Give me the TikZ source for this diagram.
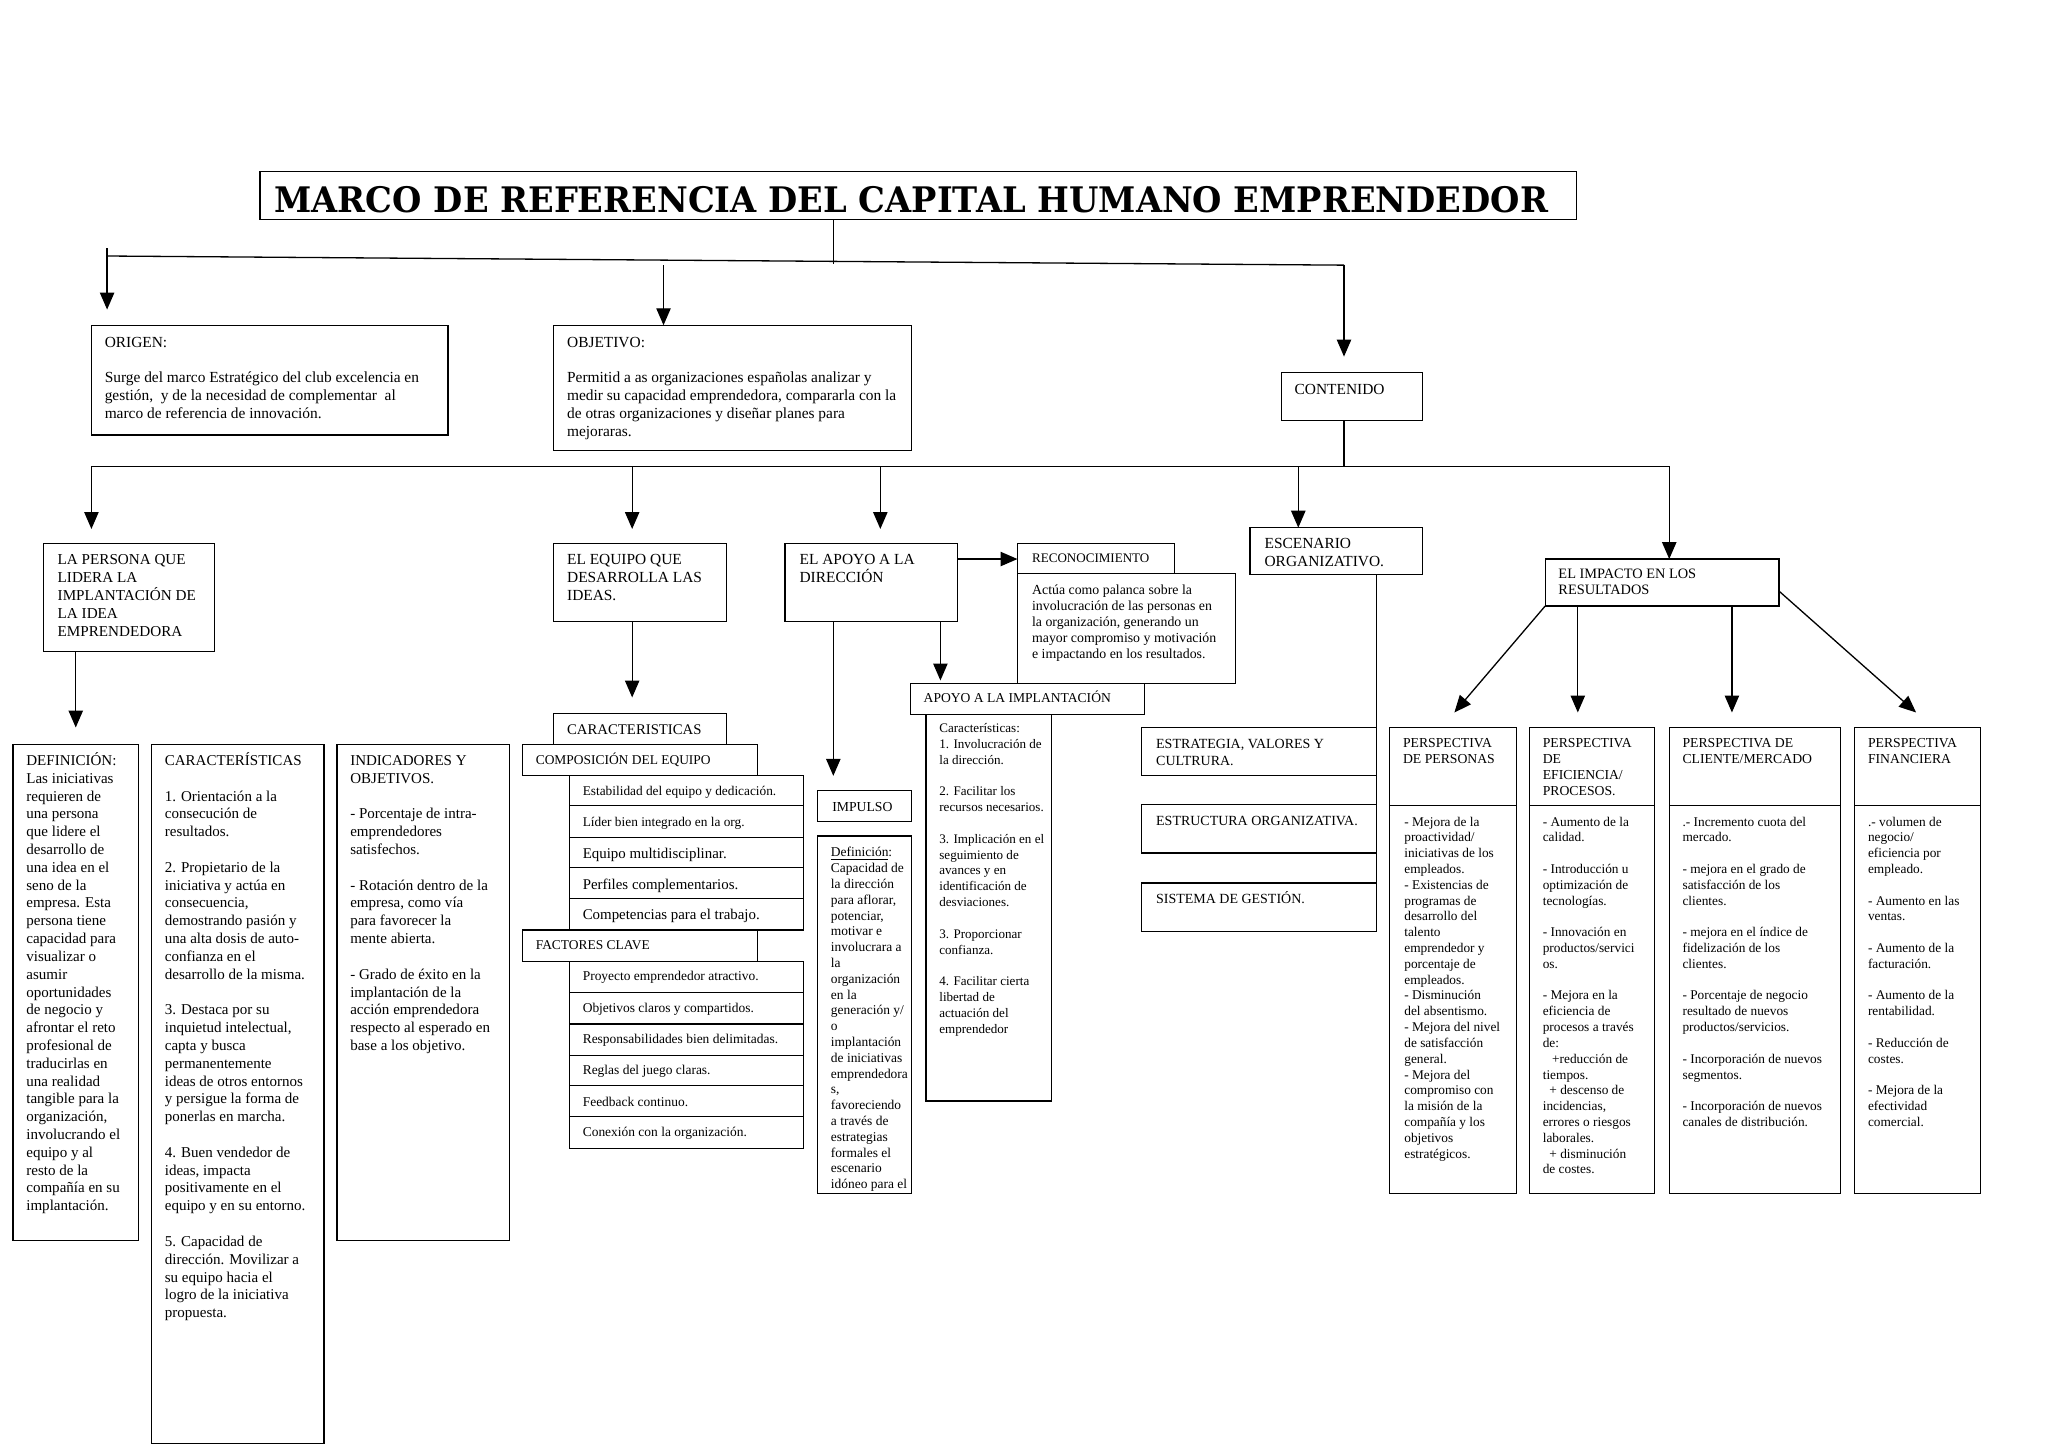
\documentclass[tikz,border=0pt]{standalone}
\usepackage{fontspec}
\usepackage{graphicx}
\setmainfont{Liberation Serif}
\newfontfamily\titlefont{DejaVu Serif}
\usetikzlibrary{arrows.meta}
\newcommand\bl{\\[\baselineskip]}
\newcommand\bx[5]{\node[box, minimum width={#4-#2}, minimum height={#5-#3}] (#1) at (#2,#3) {};}
\newcommand\tx[5]{\node[anchor=base west, inner sep=0pt] (#1) at (#2) {\parbox[t]{400pt}{\raggedright\fontsize{#3}{#4}\selectfont #5}};}
\tikzset{
  box/.style={draw, line width=0.9pt, inner sep=0pt, outer sep=0pt, anchor=north west},
  arr/.style={-{Triangle[length=13pt,width=11pt]}, line width=1pt},
  ln/.style={line width=1pt}
}
\begin{document}
\begin{tikzpicture}[x=1pt,y=-1pt]
\useasboundingbox[fill=white] (0,0) rectangle (1568,1109);

% ---------- boxes ----------
\bx{title}{199}{131}{1207}{168}
\bx{origen}{70}{249}{343}{333}
\bx{objetivo}{424}{249}{698}{345}
\bx{contenido}{981}{285}{1089}{322}
\bx{persona}{33}{416}{164}{499}
\bx{equipo}{424}{416}{556}{476}
\bx{apoyo}{601}{416}{733}{476}
\bx{recon}{779}{416}{899}{439}
\bx{recondesc}{779}{439}{946}{523}
\bx{escenario}{957}{404}{1089}{440}
\bx{impacto}{1183}{428}{1362}{464}
\bx{apimpl}{697}{523}{876}{547}
\bx{apcar}{709}{547}{805}{843}
\bx{impulso}{626}{605}{698}{629}
\bx{impdef}{626}{640}{698}{914}
\bx{carac}{424}{546}{556}{570}
\bx{compos}{400}{570}{580}{594}
\bx{ci1}{436}{594}{615}{617}
\bx{ci2}{436}{617}{615}{641}
\bx{ci3}{436}{641}{615}{664}
\bx{ci4}{436}{664}{615}{688}
\bx{ci5}{436}{688}{615}{712}
\bx{factores}{400}{712}{580}{736}
\bx{fi1}{436}{736}{615}{760}
\bx{fi2}{436}{760}{615}{784}
\bx{fi3}{436}{784}{615}{808}
\bx{fi4}{436}{808}{615}{831}
\bx{fi5}{436}{831}{615}{855}
\bx{fi6}{436}{855}{615}{879}
\bx{estrat}{874}{557}{1054}{594}
\bx{estruc}{874}{616}{1054}{653}
\bx{sistema}{874}{676}{1054}{713}
\bx{p1h}{1064}{557}{1161}{617}
\bx{p1}{1064}{617}{1161}{914}
\bx{p2h}{1171}{557}{1267}{617}
\bx{p2}{1171}{617}{1267}{914}
\bx{p3h}{1278}{557}{1409}{617}
\bx{p3}{1278}{617}{1409}{914}
\bx{p4h}{1420}{557}{1516}{617}
\bx{p4}{1420}{617}{1516}{914}
\bx{defin}{10}{570}{106}{950}
\bx{caract}{116}{570}{248}{1105}
\bx{indic}{258}{570}{390}{950}

% ---------- title ----------
\node[anchor=base west, inner sep=0pt] (ttltext) at (210,163) {\resizebox{975pt}{20pt}{\titlefont\bfseries MARCO DE REFERENCIA DEL CAPITAL HUMANO EMPRENDEDOR}};

% ---------- texts ----------
\tx{torigen}{80,266}{11.8}{13.6}{ORIGEN:\bl Surge del marco Estratégico del club excelencia en\\ gestión,\ \ y de la necesidad de complementar\ \ al\\ marco de referencia de innovación.}
\tx{tobjetivo}{434,266}{11.8}{13.6}{OBJETIVO:\bl Permitid a as organizaciones españolas analizar y\\ medir su capacidad emprendedora, compararla con la\\ de otras organizaciones y diseñar planes para\\ mejoraras.}
\tx{tcontenido}{991,302}{11.8}{13.6}{CONTENIDO}
\tx{tpersona}{44,432}{11.6}{13.8}{LA PERSONA QUE\\ LIDERA LA\\ IMPLANTACIÓN DE\\ LA IDEA\\ EMPRENDEDORA}
\tx{tequipo}{434,432}{11.8}{13.9}{EL EQUIPO QUE\\ DESARROLLA LAS\\ IDEAS.}
\tx{tapoyo}{612,432}{11.8}{13.9}{EL APOYO A LA\\ DIRECCIÓN}
\tx{trecon}{790,431}{10}{12}{RECONOCIMIENTO}
\tx{trecondesc}{790,455}{10.6}{12.2}{Actúa como palanca sobre la\\ involucración de las personas en\\ la organización, generando un\\ mayor compromiso y motivación\\ e impactando en los resultados.}
\tx{tescenario}{968,420}{11.8}{14}{ESCENARIO\\ ORGANIZATIVO.}
\tx{timpacto}{1193,443}{11}{12}{EL IMPACTO EN LOS\\ RESULTADOS}
\tx{tapimpl}{707,538}{10.4}{12}{APOYO A LA IMPLANTACIÓN}
\tx{tapcar}{719,561}{10}{12.1}{Características:\\ 1. Involucración de\\ la dirección.\bl 2. Facilitar los\\ recursos necesarios.\bl 3. Implicación en el\\ seguimiento de\\ avances y en\\ identificación de\\ desviaciones.\bl 3. Proporcionar\\ confianza.\bl 4. Facilitar cierta\\ libertad de\\ actuación del\\ emprendedor}
\tx{timpulso}{637,621}{10.5}{12}{IMPULSO}
\begin{scope}
\clip (626,640) rectangle (698,913);
\tx{timpdef}{636,656}{10.3}{12.1}{\underline{Definición}:\\ Capacidad de\\ la dirección\\ para aflorar,\\ potenciar,\\ motivar e\\ involucrara a\\ la\\ organización\\ en la\\ generación y/\\ o\\ implantación\\ de iniciativas\\ emprendedora\\ s,\\ favoreciendo\\ a través de\\ estrategias\\ formales el\\ escenario\\ idóneo para el}
\end{scope}
\tx{tcarac}{434,562}{11.3}{13}{CARACTERISTICAS}
\tx{tcompos}{410,585}{10.3}{12}{COMPOSICIÓN DEL EQUIPO}
\tx{tci1}{446,609}{10.2}{12}{Estabilidad del equipo y dedicación.}
\tx{tci2}{446,633}{10.2}{12}{Líder bien integrado en la org.}
\tx{tci3}{446,657}{11.4}{12}{Equipo multidisciplinar.}
\tx{tci4}{446,681}{11.4}{12}{Perfiles complementarios.}
\tx{tci5}{446,704}{11.4}{12}{Competencias para el trabajo.}
\tx{tfactores}{410,727}{10.3}{12}{FACTORES CLAVE}
\tx{tfi1}{446,751}{10.3}{12}{Proyecto emprendedor atractivo.}
\tx{tfi2}{446,775}{10.3}{12}{Objetivos claros y compartidos.}
\tx{tfi3}{446,799}{10.3}{12}{Responsabilidades bien delimitadas.}
\tx{tfi4}{446,823}{10.3}{12}{Reglas del juego claras.}
\tx{tfi5}{446,847}{10.3}{12}{Feedback continuo.}
\tx{tfi6}{446,870}{10.3}{12}{Conexión con la organización.}
\tx{testrat}{885,573}{10.7}{13}{ESTRATEGIA, VALORES Y\\ CULTRURA.}
\tx{testruc}{885,632}{10.7}{13}{ESTRUCTURA ORGANIZATIVA.}
\tx{tsistema}{885,692}{10.7}{13}{SISTEMA DE GESTIÓN.}
\tx{tp1h}{1074,572.5}{10.5}{12.2}{PERSPECTIVA\\ DE PERSONAS}
\tx{tp2h}{1181,572.5}{10.5}{12.2}{PERSPECTIVA\\ DE\\ EFICIENCIA/\\ PROCESOS.}
\tx{tp3h}{1288,572.5}{10.5}{12.2}{PERSPECTIVA DE\\ CLIENTE/MERCADO}
\tx{tp4h}{1430,572.5}{10.5}{12.2}{PERSPECTIVA\\ FINANCIERA}
\tx{tp1}{1075,632.5}{10.2}{12.1}{- Mejora de la\\ proactividad/\\ iniciativas de los\\ empleados.\\ - Existencias de\\ programas de\\ desarrollo del\\ talento\\ emprendedor y\\ porcentaje de\\ empleados.\\ - Disminución\\ del absentismo.\\ - Mejora del nivel\\ de satisfacción\\ general.\\ - Mejora del\\ compromiso con\\ la misión de la\\ compañía y los\\ objetivos\\ estratégicos.}
\tx{tp2}{1181,632.5}{10.2}{12.1}{- Aumento de la\\ calidad.\bl - Introducción u\\ optimización de\\ tecnologías.\bl - Innovación en\\ productos/servici\\ os.\bl - Mejora en la\\ eficiencia de\\ procesos a través\\ de:\\ \hspace*{0.7em}+reducción de\\ tiempos.\\ \hspace*{0.5em}+ descenso de\\ incidencias,\\ errores o riesgos\\ laborales.\\ \hspace*{0.5em}+ disminución\\ de costes.}
\tx{tp3}{1288,632.5}{10.2}{12.1}{.- Incremento cuota del\\ mercado.\bl - mejora en el grado de\\ satisfacción de los\\ clientes.\bl - mejora en el índice de\\ fidelización de los\\ clientes.\bl - Porcentaje de negocio\\ resultado de nuevos\\ productos/servicios.\bl - Incorporación de nuevos\\ segmentos.\bl - Incorporación de nuevos\\ canales de distribución.}
\tx{tp4}{1430,632.5}{10.2}{12.1}{.- volumen de\\ negocio/\\ eficiencia por\\ empleado.\bl - Aumento en las\\ ventas.\bl - Aumento de la\\ facturación.\bl - Aumento de la\\ rentabilidad.\bl - Reducción de\\ costes.\bl - Mejora de la\\ efectividad\\ comercial.}
\tx{tdefin}{20,586}{11.5}{13.64}{DEFINICIÓN:\\ Las iniciativas\\ requieren de\\ una persona\\ que lidere el\\ desarrollo de\\ una idea en el\\ seno de la\\ empresa. Esta\\ persona tiene\\ capacidad para\\ visualizar o\\ asumir\\ oportunidades\\ de negocio y\\ afrontar el reto\\ profesional de\\ traducirlas en\\ una realidad\\ tangible para la\\ organización,\\ involucrando el\\ equipo y al\\ resto de la\\ compañía en su\\ implantación.}
\tx{tcaract}{126,586}{11.5}{13.64}{CARACTERÍSTICAS\bl 1. Orientación a la\\ consecución de\\ resultados.\bl 2. Propietario de la\\ iniciativa y actúa en\\ consecuencia,\\ demostrando pasión y\\ una alta dosis de auto-\\ confianza en el\\ desarrollo de la misma.\bl 3. Destaca por su\\ inquietud intelectual,\\ capta y busca\\ permanentemente\\ ideas de otros entornos\\ y persigue la forma de\\ ponerlas en marcha.\bl 4. Buen vendedor de\\ ideas, impacta\\ positivamente en el\\ equipo y en su entorno.\bl 5. Capacidad de\\ dirección. Movilizar a\\ su equipo hacia el\\ logro de la iniciativa\\ propuesta.}
\tx{tindic}{268,586}{11.5}{13.64}{INDICADORES Y\\ OBJETIVOS.\bl - Porcentaje de intra-\\ emprendedores\\ satisfechos.\bl - Rotación dentro de la\\ empresa, como vía\\ para favorecer la\\ mente abierta.\bl - Grado de éxito en la\\ implantación de la\\ acción emprendedora\\ respecto al esperado en\\ base a los objetivo.}

% ---------- connectors, level 1 ----------
\coordinate (t1) at (638,202);
\coordinate (b0) at (82,190);
\coordinate (b1) at (82,196);
\coordinate (b2) at (1029,203);
\coordinate (aor) at (82,237);
\coordinate (aob0) at (508,203);
\coordinate (aco) at (1029,273);
\draw[ln] (title.south -| t1) -- (t1);
\draw[ln] (b1) -- (b2);
\draw[arr] (b0) -- (aor);
\draw[arr] (aob0) -- (objetivo.north -| aob0);
\draw[arr] (b2) -- (aco);

% ---------- connectors, level 2 ----------
\coordinate (c0) at (1029,357);
\coordinate (cL) at (70,357);
\coordinate (cR) at (1278,357);
\draw[ln] (contenido.south -| c0) -- (c0);
\draw[ln] (cL) -- (cR);
\draw[arr] (cL) -- (70,405) coordinate (ape);
\draw[arr] (484,357) coordinate (eq0) -- (484,405) coordinate (aeq);
\draw[arr] (674,357) coordinate (ap0) -- (674,405) coordinate (aap);
\draw[arr] (994,357) coordinate (es0) -- (escenario.north -| es0);
\draw[arr] (cR) -- (impacto.north -| cR);

% ---------- connectors, level 3 ----------
\coordinate (pd) at (58,557);
\draw[arr] (persona.south -| pd) -- (pd);
\coordinate (ed) at (484,534);
\draw[arr] (equipo.south -| ed) -- (ed);
\draw[arr] (apoyo.east |- 0,428) -- (recon.west |- 0,428);
\coordinate (ai) at (720,521);
\draw[arr] (apoyo.south -| ai) -- (ai);
\coordinate (aim) at (638,594);
\draw[arr] (apoyo.south -| aim) -- (aim);
\coordinate (es1) at (1054,676);
\draw[ln] (escenario.south -| es1) -- (es1);

% ---------- impacto arrows ----------
\coordinate (ip1) at (1113.5,545.5);
\coordinate (ip2) at (1208,545.5);
\coordinate (ip3) at (1326,545.5);
\coordinate (ip4) at (1467,545.5);
\draw[arr] (impacto.south west) -- (ip1);
\draw[arr] (impacto.south -| ip2) -- (ip2);
\draw[arr] (impacto.south -| ip3) -- (ip3);
\draw[arr] (impacto.east |- 0,452.5) -- (ip4);
\end{tikzpicture}
\end{document}
